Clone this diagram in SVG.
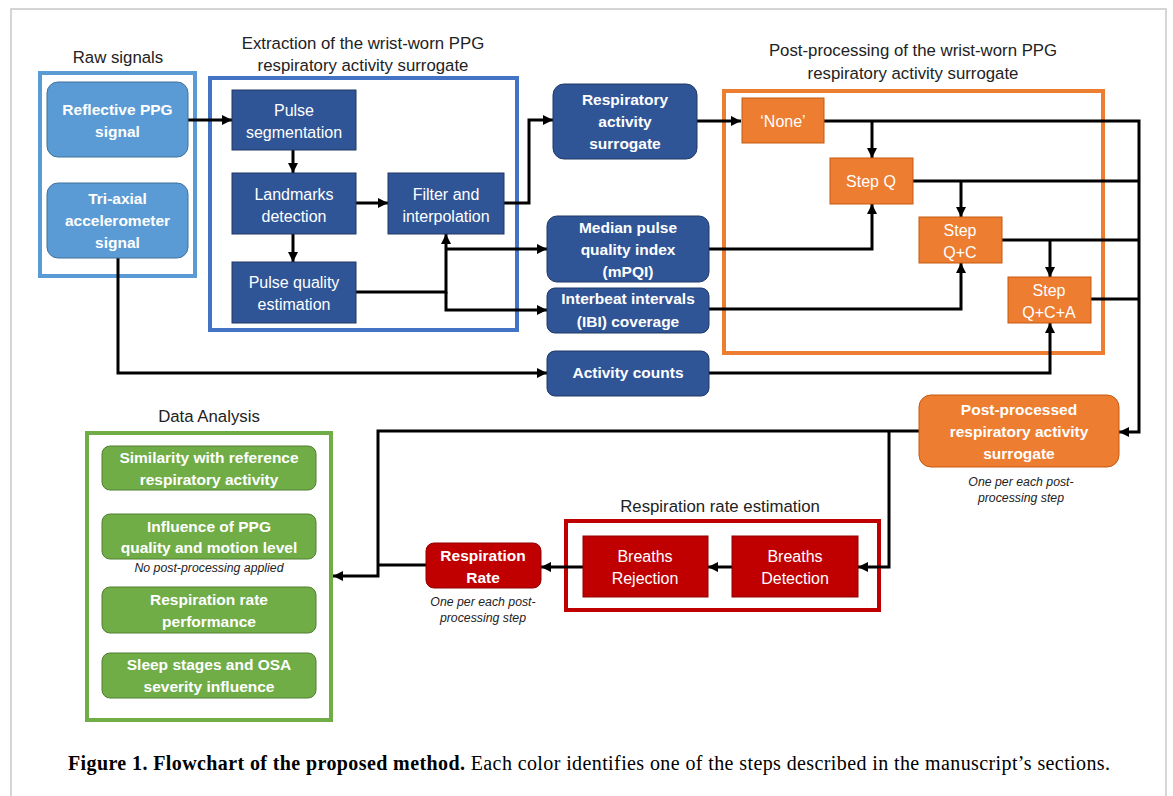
<svg xmlns="http://www.w3.org/2000/svg" width="1173" height="796" viewBox="0 0 1173 796">
<defs>
<marker id="ah" markerUnits="userSpaceOnUse" markerWidth="10" markerHeight="10" refX="10" refY="5" orient="auto">
<path d="M0,0 L10,5 L0,10 z" fill="#000"/>
</marker>
<style>
text{font-family:"Liberation Sans",Arial,sans-serif;font-size:16px;text-anchor:middle}
.w{fill:#fff}
.b{font-weight:bold;font-size:15.5px}
.t{fill:#222;font-size:16.8px}
.it{font-style:italic;font-size:12.3px;fill:#222}
.lb{fill:#5B9BD5;stroke:#41719C;stroke-width:1}
.db{fill:#2F5597;stroke:#203864;stroke-width:1}
.or{fill:#ED7D31;stroke:#C55A11;stroke-width:1}
.rd{fill:#C00000;stroke:#8F0000;stroke-width:1}
.gr{fill:#70AD47;stroke:#507E32;stroke-width:1}
.fr{fill:#fff;stroke-width:4}
.con path{fill:none;stroke:#000;stroke-width:3}
.cap{font-family:"Liberation Serif","Times New Roman",serif;font-size:20px;text-anchor:start;fill:#000}
</style>
</defs>
<rect x="0" y="0" width="1173" height="796" fill="#fff"/>
<rect x="11" y="9" width="1155" height="800" fill="none" stroke="#c8c8c8" stroke-width="1.5"/>

<!-- frames -->
<g id="frame-raw">
<rect class="fr" x="40" y="73" width="155" height="203" stroke="#5B9BD5"/>
<text class="t" x="118" y="63">Raw signals</text>
</g>
<g id="frame-extraction">
<rect class="fr" x="210" y="78" width="307" height="252" stroke="#4472C4"/>
<text class="t" x="363" y="49">Extraction of the wrist-worn PPG</text>
<text class="t" x="363" y="71">respiratory activity surrogate</text>
</g>
<g id="frame-post">
<rect class="fr" x="724" y="91" width="379" height="262" stroke="#ED7D31"/>
<text class="t" x="913" y="56">Post-processing of the wrist-worn PPG</text>
<text class="t" x="913" y="79">respiratory activity surrogate</text>
</g>
<g id="frame-rr">
<rect class="fr" x="566" y="521" width="313" height="89" stroke="#C00000"/>
<text class="t" x="720" y="512">Respiration rate estimation</text>
</g>
<g id="frame-da">
<rect class="fr" x="87" y="433" width="244" height="287" stroke="#70AD47"/>
<text class="t" x="209" y="422">Data Analysis</text>
</g>

<!-- connectors -->
<g id="connectors" class="con">
<path d="M188,120 H232" marker-end="url(#ah)"/>
<path d="M293,150 V173" marker-end="url(#ah)"/>
<path d="M356,203 H388" marker-end="url(#ah)"/>
<path d="M293,234 V262" marker-end="url(#ah)"/>
<path d="M356,292 H446 V234" marker-end="url(#ah)"/>
<path d="M446,249 H547" marker-end="url(#ah)"/>
<path d="M446,292 V310 H547" marker-end="url(#ah)"/>
<path d="M504,203 H529 V120 H553" marker-end="url(#ah)"/>
<path d="M118,258 V373 H547" marker-end="url(#ah)"/>
<path d="M697,121 H741" marker-end="url(#ah)"/>
<path d="M824,121 H1139 V432 H1119" marker-end="url(#ah)"/>
<path d="M872,121 V158" marker-end="url(#ah)"/>
<path d="M913,181 H1139"/>
<path d="M961,181 V217" marker-end="url(#ah)"/>
<path d="M1002,240 H1139"/>
<path d="M1050,240 V277" marker-end="url(#ah)"/>
<path d="M1091,299 H1139"/>
<path d="M709,249 H872 V204" marker-end="url(#ah)"/>
<path d="M709,309 H961 V263" marker-end="url(#ah)"/>
<path d="M709,373 H1050 V323" marker-end="url(#ah)"/>
<path d="M919,431 H378 V576 H333" marker-end="url(#ah)"/>
<path d="M889,431 V567 H858" marker-end="url(#ah)"/>
<path d="M732,567 H708" marker-end="url(#ah)"/>
<path d="M583,567 H541" marker-end="url(#ah)"/>
<path d="M426,565 H378"/>
</g>

<!-- nodes -->
<g id="n-ppg">
<rect class="lb" x="47" y="82" width="141" height="75" rx="11"/>
<text class="w b" x="117.5" y="115">Reflective PPG</text>
<text class="w b" x="117.5" y="137">signal</text>
</g>
<g id="n-acc">
<rect class="lb" x="47" y="183" width="141" height="75" rx="11"/>
<text class="w b" x="117.5" y="204">Tri-axial</text>
<text class="w b" x="117.5" y="226">accelerometer</text>
<text class="w b" x="117.5" y="248">signal</text>
</g>
<g id="n-seg">
<rect class="db" x="232" y="90" width="124" height="60"/>
<text class="w" x="294" y="115.5">Pulse</text>
<text class="w" x="294" y="137.5">segmentation</text>
</g>
<g id="n-land">
<rect class="db" x="232" y="173" width="124" height="61"/>
<text class="w" x="294" y="199.5">Landmarks</text>
<text class="w" x="294" y="221.5">detection</text>
</g>
<g id="n-pq">
<rect class="db" x="232" y="262" width="124" height="61"/>
<text class="w" x="294" y="287.5">Pulse quality</text>
<text class="w" x="294" y="309.5">estimation</text>
</g>
<g id="n-filter">
<rect class="db" x="388" y="173" width="116" height="61"/>
<text class="w" x="446" y="199.5">Filter and</text>
<text class="w" x="446" y="221.5">interpolation</text>
</g>
<g id="n-ras">
<rect class="db" x="553" y="84" width="144" height="75" rx="11"/>
<text class="w b" x="625" y="105">Respiratory</text>
<text class="w b" x="625" y="127">activity</text>
<text class="w b" x="625" y="149">surrogate</text>
</g>
<g id="n-mpqi">
<rect class="db" x="547" y="216" width="162" height="66" rx="10"/>
<text class="w b" x="628" y="233">Median pulse</text>
<text class="w b" x="628" y="255">quality index</text>
<text class="w b" x="628" y="277">(mPQI)</text>
</g>
<g id="n-ibi">
<rect class="db" x="547" y="288" width="162" height="45" rx="8"/>
<text class="w b" x="628" y="304">Interbeat intervals</text>
<text class="w b" x="628" y="327">(IBI) coverage</text>
</g>
<g id="n-act">
<rect class="db" x="547" y="351" width="162" height="45" rx="8"/>
<text class="w b" x="628" y="378">Activity counts</text>
</g>
<g id="n-none">
<rect class="or" x="742" y="98" width="82" height="45"/>
<text class="w" x="783" y="126.5">‘None’</text>
</g>
<g id="n-q">
<rect class="or" x="830" y="158" width="83" height="46"/>
<text class="w" x="871" y="186.5">Step Q</text>
</g>
<g id="n-qc">
<rect class="or" x="919" y="217" width="83" height="46"/>
<text class="w" x="960" y="235.5">Step</text>
<text class="w" x="960" y="257.5">Q+C</text>
</g>
<g id="n-qca">
<rect class="or" x="1008" y="277" width="83" height="46"/>
<text class="w" x="1049" y="295.5">Step</text>
<text class="w" x="1049" y="317.5">Q+C+A</text>
</g>
<g id="n-post">
<rect class="or" x="919" y="395" width="200" height="72" rx="12"/>
<text class="w b" x="1019" y="415">Post-processed</text>
<text class="w b" x="1019" y="437">respiratory activity</text>
<text class="w b" x="1019" y="459">surrogate</text>
<text class="it" x="1021" y="486">One per each post-</text>
<text class="it" x="1021" y="502">processing step</text>
</g>
<g id="n-detect">
<rect class="rd" x="732" y="536" width="126" height="61"/>
<text class="w" x="795" y="561.5">Breaths</text>
<text class="w" x="795" y="583.5">Detection</text>
</g>
<g id="n-reject">
<rect class="rd" x="583" y="536" width="125" height="61"/>
<text class="w" x="645" y="561.5">Breaths</text>
<text class="w" x="645" y="583.5">Rejection</text>
</g>
<g id="n-rr">
<rect class="rd" x="426" y="543" width="115" height="45" rx="8"/>
<text class="w b" x="483" y="561">Respiration</text>
<text class="w b" x="483" y="583">Rate</text>
<text class="it" x="483" y="606">One per each post-</text>
<text class="it" x="483" y="622">processing step</text>
</g>
<g id="n-da1">
<rect class="gr" x="102" y="446" width="214" height="44" rx="8"/>
<text class="w b" x="209" y="463">Similarity with reference</text>
<text class="w b" x="209" y="485">respiratory activity</text>
</g>
<g id="n-da2">
<rect class="gr" x="102" y="514" width="214" height="45" rx="8"/>
<text class="w b" x="209" y="532">Influence of PPG</text>
<text class="w b" x="209" y="553">quality and motion level</text>
<text class="it" x="209" y="572">No post-processing applied</text>
</g>
<g id="n-da3">
<rect class="gr" x="102" y="587" width="214" height="46" rx="8"/>
<text class="w b" x="209" y="605">Respiration rate</text>
<text class="w b" x="209" y="627">performance</text>
</g>
<g id="n-da4">
<rect class="gr" x="102" y="653" width="214" height="45" rx="8"/>
<text class="w b" x="209" y="670">Sleep stages and OSA</text>
<text class="w b" x="209" y="692">severity influence</text>
</g>

<text class="cap" x="68" y="770" textLength="1042" lengthAdjust="spacing"><tspan font-weight="bold">Figure 1. Flowchart of the proposed method.</tspan> Each color identifies one of the steps described in the manuscript’s sections.</text>
</svg>
